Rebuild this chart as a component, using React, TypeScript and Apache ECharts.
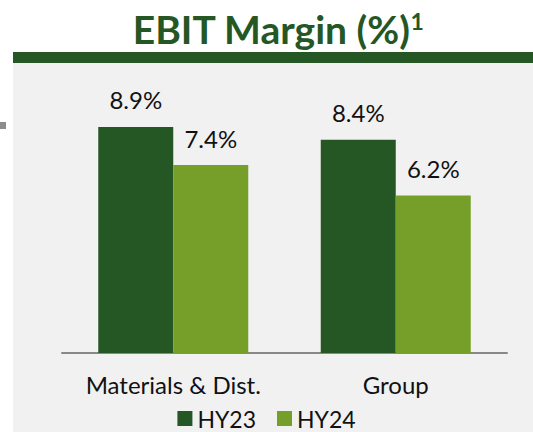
import React, { useEffect, useRef } from "react";
import * as echarts from "echarts";

const categories = ["Materials & Dist.", "Group"];
const seriesNames = ["HY23", "HY24"];
const hy23 = [8.9, 8.4];
const hy24 = [7.4, 6.2];
const colors = ["#245723", "#769f2a"];

export default function App() {
  const ref = useRef<HTMLDivElement>(null);
  useEffect(() => {
    if (!ref.current) return;
    const chart = echarts.init(ref.current, null, { renderer: "svg" });
    const font = "Lato, 'Noto Sans', sans-serif";
    const labelCfg = {
      show: true,
      position: "top",
      distance: 15,
      formatter: (p: any) => p.value.toFixed(1) + "%",
      fontFamily: font,
      fontSize: 24,
      color: "#111",
    };
    chart.setOption({
      animation: false,
      backgroundColor: "#ffffff",
      textStyle: { fontFamily: font },
      title: {
        text: "{t|EBIT Margin (%)}{s|1}",
        left: 273,
        textAlign: "center",
        top: 4,
        textStyle: {
          rich: {
            t: { fontFamily: font, fontWeight: "bold", fontSize: 39, color: "#245723" },
            s: { fontFamily: font, fontWeight: "bold", fontSize: 23, color: "#245723", verticalAlign: "top", padding: [0, 0, 14, 0] },
          },
        },
      },
      graphic: [
        { type: "rect", z: -10, shape: { x: 13, y: 63, width: 520, height: 369 }, style: { fill: "#f1f1f1" } },
        { type: "rect", z: -10, shape: { x: 13, y: 52, width: 520, height: 11 }, style: { fill: "#245723" } },
        { type: "rect", z: -10, shape: { x: 0, y: 122, width: 6, height: 7 }, style: { fill: "#8c8c8c" } },
      ],
      legend: {
        data: seriesNames,
        top: 407,
        left: "center",
        padding: 0,
        itemWidth: 15,
        itemHeight: 15,
        itemGap: 21,
        icon: "rect",
        textStyle: { fontFamily: font, fontSize: 23, lineHeight: 22, color: "#111" },
      },
      grid: { left: 62, right: 26, top: 99, bottom: 79, containLabel: false },
      xAxis: {
        type: "category",
        data: categories,
        axisLine: { lineStyle: { color: "#888888", width: 2 } },
        axisTick: { show: false },
        axisLabel: { interval: 0, fontFamily: font, fontSize: 24, color: "#111", margin: 19 },
      },
      yAxis: { type: "value", min: 0, max: 10, show: false, splitLine: { show: false } },
      series: [
        {
          name: seriesNames[0],
          type: "bar",
          data: hy23,
          barWidth: 75,
          barGap: "0%",
          itemStyle: { color: colors[0] },
          label: labelCfg,
        },
        {
          name: seriesNames[1],
          type: "bar",
          data: hy24,
          barWidth: 75,
          barGap: "0%",
          itemStyle: { color: colors[1] },
          label: labelCfg,
        },
      ],
    });
    return () => chart.dispose();
  }, []);
  return <div ref={ref} style={{ position: "fixed", left: 0, top: 0, width: 533, height: 432 }} />;
}
